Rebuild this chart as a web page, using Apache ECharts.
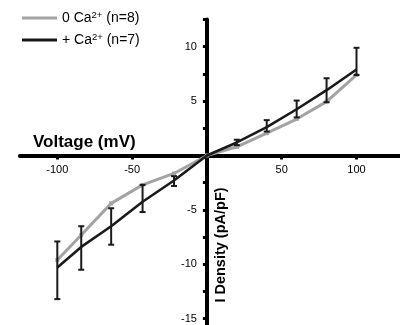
<!DOCTYPE html>
<html>
<head>
<meta charset="utf-8">
<script src="https://cdn.jsdelivr.net/npm/echarts@6/dist/echarts.min.js"></script>
<style>
html,body{margin:0;padding:0;background:#fff;}
#chart{width:400px;height:325px;}
</style>
</head>
<body>
<div id="chart"></div>
<script>
// ---- data ----
var seriesNames = ['0 Ca²⁺ (n=8)', '+ Ca²⁺ (n=7)'];
var voltages = [-100, -84, -64, -43, -22, 0, 20, 40, 60, 80, 100];
var noCa = [-9.6, -7.3, -4.4, -2.7, -1.65, 0, 0.8, 2.05, 3.35, 4.95, 7.4];
var plusCa = [-10.3, -8.4, -6.5, -4.25, -2.3, 0, 1.2, 2.6, 4.25, 6.0, 7.9];
var plusCaLow = [-13.2, -10.5, -8.2, -5.2, -2.8, null, 0.95, 2.2, 3.5, 4.9, 7.4];
var plusCaHigh = [-7.9, -6.5, -4.85, -2.7, -1.9, null, 1.45, 3.25, 5.05, 7.1, 9.9];
var xTickLabels = [-100, -50, 50, 100];
var yTickLabels = [-15, -10, -5, 5, 10];
var xTitle = 'Voltage (mV)';
var yTitle = 'I Density (pA/pF)';

var FONT = '"Liberation Sans", Arial, sans-serif';
var chart = echarts.init(document.getElementById('chart'), null, {renderer: 'canvas'});

function pairs(xs, ys) {
  var out = [];
  for (var i = 0; i < xs.length; i++) out.push([xs[i], ys[i]]);
  return out;
}
var errData = [];
for (var i = 0; i < voltages.length; i++) {
  if (plusCaLow[i] !== null) errData.push([voltages[i], plusCaLow[i], plusCaHigh[i]]);
}

function legendFmt(name) {
  return name.replace('²⁺', '{sup|2+}');
}

// layout constants (pixel frame of the plot)
var X0 = 206.9, PXV = 1.496, TOP = 19.5, H_ALL = 353.6, H_POS = 136;
var gBase = {containLabel: false, outerBoundsMode: 'none'};
function grid(o) { return Object.assign({}, gBase, o); }
var hidden = {show: false};

var option = {
  animation: false,
  backgroundColor: '#fff',
  textStyle: {fontFamily: FONT},
  legend: {
    orient: 'vertical',
    left: 17,
    top: 5,
    itemWidth: 35,
    itemHeight: 3,
    itemGap: 7,
    icon: 'rect',
    data: seriesNames,
    formatter: legendFmt,
    textStyle: {
      fontFamily: FONT, fontSize: 14, color: '#000',
      rich: {sup: {fontFamily: FONT, fontSize: 9.5, color: '#000', padding: [0, 0, 6, 0]}}
    }
  },
  grid: [
    // 0: data
    grid({left: X0 - 150 * PXV, width: 300 * PXV, top: TOP, height: H_ALL}),
    // 1: x ticks + labels (bottom edge = zero line)
    grid({left: X0 - 150 * PXV, width: 300 * PXV, top: TOP, height: H_POS}),
    // 2: x axis line
    grid({left: X0 - 125 * PXV, width: 255 * PXV, top: TOP, height: H_POS}),
    // 3: y axis (left edge = zero line)
    grid({left: X0, width: 190, top: TOP, height: H_ALL})
  ],
  xAxis: [
    {type: 'value', gridIndex: 0, min: -150, max: 150, show: false},
    {
      type: 'value', gridIndex: 1, min: -150, max: 150, interval: 50, position: 'bottom',
      axisLine: {show: false, onZero: false},
      axisTick: {show: true, length: 4, lineStyle: {color: '#000', width: 3}},
      splitLine: {show: false},
      axisLabel: {
        margin: 9, fontSize: 11, color: '#000', fontFamily: FONT,
        formatter: function (v) { return xTickLabels.indexOf(Number(v)) >= 0 ? String(v) : ''; }
      }
    },
    {
      type: 'value', gridIndex: 2, min: -125, max: 130, position: 'bottom',
      axisLine: {show: true, onZero: false, lineStyle: {color: '#000', width: 4}},
      axisTick: hidden, axisLabel: hidden, splitLine: hidden
    },
    {type: 'value', gridIndex: 3, min: 0, max: 1, show: false}
  ],
  yAxis: [
    {type: 'value', gridIndex: 0, min: -20, max: 12.5, show: false},
    {type: 'value', gridIndex: 1, min: 0, max: 12.5, show: false},
    {type: 'value', gridIndex: 2, min: 0, max: 12.5, show: false},
    {
      type: 'value', gridIndex: 3, min: -20, max: 12.5, interval: 2.5, position: 'left',
      axisLine: {show: true, onZero: false, lineStyle: {color: '#000', width: 4}},
      axisTick: {show: true, length: 4, lineStyle: {color: '#000', width: 3}},
      splitLine: {show: false},
      axisLabel: {
        margin: 10, fontSize: 11, color: '#000', fontFamily: FONT,
        formatter: function (v) { return yTickLabels.indexOf(Number(v)) >= 0 ? String(v) : ''; }
      }
    }
  ],
  graphic: [
    {
      type: 'text', left: 33, top: 134, z: 100,
      style: {text: xTitle, font: 'bold 17px ' + FONT, fill: '#000'}
    },
    {
      type: 'text', x: 221, y: 245, rotation: Math.PI / 2, z: 100,
      style: {text: yTitle, font: 'bold 14.5px ' + FONT, fill: '#000', align: 'center', verticalAlign: 'middle'}
    }
  ],
  series: [
    {
      name: seriesNames[0], type: 'line', xAxisIndex: 0, yAxisIndex: 0,
      data: pairs(voltages, noCa),
      color: '#a3a3a3',
      lineStyle: {color: '#a3a3a3', width: 3},
      symbol: 'rect', symbolSize: 4, showSymbol: true,
      itemStyle: {color: '#a3a3a3'},
      z: 2
    },
    {
      name: seriesNames[1], type: 'line', xAxisIndex: 0, yAxisIndex: 0,
      data: pairs(voltages, plusCa),
      color: '#1a1a1a',
      lineStyle: {color: '#1a1a1a', width: 2.6},
      symbol: 'none',
      itemStyle: {color: '#1a1a1a'},
      z: 3
    },
    {
      name: 'err', type: 'custom', xAxisIndex: 0, yAxisIndex: 0,
      data: errData, z: 4,
      renderItem: function (params, api) {
        var lo = api.coord([api.value(0), api.value(1)]);
        var hi = api.coord([api.value(0), api.value(2)]);
        var hw = 3;
        var st = {stroke: '#1a1a1a', lineWidth: 2};
        return {
          type: 'group',
          children: [
            {type: 'line', shape: {x1: lo[0], y1: lo[1], x2: hi[0], y2: hi[1]}, style: st},
            {type: 'line', shape: {x1: lo[0] - hw, y1: lo[1], x2: lo[0] + hw, y2: lo[1]}, style: st},
            {type: 'line', shape: {x1: hi[0] - hw, y1: hi[1], x2: hi[0] + hw, y2: hi[1]}, style: st}
          ]
        };
      }
    }
  ]
};
chart.setOption(option);
</script>
</body>
</html>
